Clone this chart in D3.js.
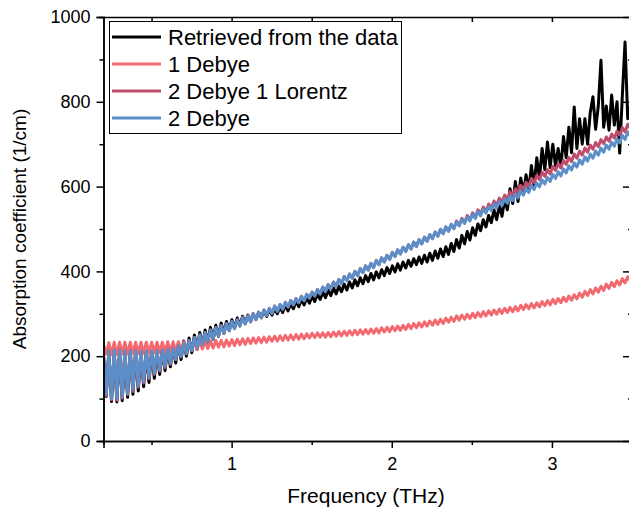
<!DOCTYPE html>
<html>
<head>
<meta charset="utf-8">
<script src="https://cdn.jsdelivr.net/npm/d3@7"></script>
<style>
  body { margin: 0; background: #fff; }
  svg { display: block; font-family: "Liberation Sans", Arial, sans-serif; }
</style>
</head>
<body>
<div id="chart"></div>
<script>
// frequency grid (THz), one point every half period of the fringes
const freq = [
  0.2, 0.2167, 0.2334, 0.2501, 0.2668, 0.2835, 0.3002, 0.3169, 0.3336, 0.3503,
  0.367, 0.3837, 0.4004, 0.4171, 0.4338, 0.4505, 0.4672, 0.4839, 0.5006, 0.5173,
  0.534, 0.5507, 0.5674, 0.5841, 0.6008, 0.6175, 0.6342, 0.6509, 0.6676, 0.6843,
  0.701, 0.7177, 0.7344, 0.7511, 0.7678, 0.7845, 0.8012, 0.8179, 0.8346, 0.8513,
  0.868, 0.8847, 0.9014, 0.9181, 0.9348, 0.9515, 0.9682, 0.9849, 1.0016, 1.0183,
  1.035, 1.0517, 1.0684, 1.0851, 1.1018, 1.1185, 1.1352, 1.1519, 1.1686, 1.1853,
  1.202, 1.2187, 1.2354, 1.2521, 1.2688, 1.2855, 1.3022, 1.3189, 1.3356, 1.3523,
  1.369, 1.3857, 1.4024, 1.4191, 1.4358, 1.4525, 1.4692, 1.4859, 1.5026, 1.5193,
  1.536, 1.5527, 1.5694, 1.5861, 1.6028, 1.6195, 1.6362, 1.6529, 1.6696, 1.6863,
  1.703, 1.7197, 1.7364, 1.7531, 1.7698, 1.7865, 1.8032, 1.8199, 1.8366, 1.8533,
  1.87, 1.8867, 1.9034, 1.9201, 1.9368, 1.9535, 1.9702, 1.9869, 2.0036, 2.0203,
  2.037, 2.0537, 2.0704, 2.0871, 2.1038, 2.1205, 2.1372, 2.1539, 2.1706, 2.1873,
  2.204, 2.2207, 2.2374, 2.2541, 2.2708, 2.2875, 2.3042, 2.3209, 2.3376, 2.3543,
  2.371, 2.3877, 2.4044, 2.4211, 2.4378, 2.4545, 2.4712, 2.4879, 2.5046, 2.5213,
  2.538, 2.5547, 2.5714, 2.5881, 2.6048, 2.6215, 2.6382, 2.6549, 2.6716, 2.6883,
  2.705, 2.7217, 2.7384, 2.7551, 2.7718, 2.7885, 2.8052, 2.8219, 2.8386, 2.8553,
  2.872, 2.8887, 2.9054, 2.9221, 2.9388, 2.9555, 2.9722, 2.9889, 3.0056, 3.0223,
  3.039, 3.0557, 3.0724, 3.0891, 3.1058, 3.1225, 3.1392, 3.1559, 3.1726, 3.1893,
  3.206, 3.2227, 3.2394, 3.2561, 3.2728, 3.2895, 3.3062, 3.3229, 3.3396, 3.3563,
  3.373, 3.3897, 3.4064, 3.4231, 3.4398, 3.4565, 3.4732, 3.4899, 3.5066
];

// absorption coefficient (1/cm)
const retrieved = [
  200,105, 210,93, 212,92, 212,95, 212,103, 211,110, 210,118, 210,128, 210,138, 211,148,
  212,157, 214,166, 217,175, 222,184, 229,192, 236,200, 243,208, 250,216, 256,224, 262,232,
  268,240, 273,247, 278,254, 282,261, 286,267, 290,273, 294,278, 297,283, 300,287, 303,291,
  306,294, 309,297, 312,300, 316,303, 320,307, 324,312, 329,317, 333,321, 338,325, 342,329,
  347,334, 351,338, 356,343, 361,347, 365,352, 370,356, 375,361, 380,366, 385,371, 390,376,
  395,380, 399,385, 404,390, 409,395, 413,399, 418,403, 422,408, 426,412, 430,416, 434,419,
  438,422, 443,426, 448,431, 453,435, 458,440, 466,447, 475,455, 485,465, 494,474, 503,485,
  512,496, 522,505, 532,515, 545,522, 556,530, 570,545, 595,560, 612,565, 620,585, 628,590,
  650,600, 668,620, 690,640, 705,645, 700,650, 690,645, 718,668, 740,680, 788,690, 760,700,
  760,700, 775,812, 735,790, 898,740, 790,733, 816,745, 800,679, 816,941, 760,790, 770
];

const debye1 = [
  228,205, 232,204, 233,204, 233,205, 233,205, 233,206, 233,206, 233,207, 233,207, 233,208,
  233,209, 233,210, 234,211, 234,212, 234,213, 234,214, 235,215, 235,216, 235,217, 236,218,
  236,219, 237,221, 237,222, 238,224, 239,225, 240,227, 241,228, 242,230, 243,231, 244,232,
  245,233, 246,235, 247,236, 248,237, 249,238, 250,239, 251,240, 252,241, 253,243, 254,244,
  255,245, 255,245, 256,246, 257,247, 258,248, 259,249, 260,250, 261,251, 262,252, 263,253,
  264,254, 265,255, 267,257, 268,258, 270,260, 271,261, 273,263, 275,265, 277,267, 279,269,
  281,271, 283,273, 285,275, 287,277, 290,280, 292,282, 295,285, 297,287, 299,289, 301,291,
  303,293, 305,295, 307,297, 309,299, 311,301, 313,303, 315,305, 317,307, 320,310, 322,312,
  324,314, 326,316, 329,319, 331,321, 334,324, 336,326, 339,329, 342,332, 345,335, 349,339,
  353,343, 357,347, 361,351, 365,355, 370,360, 374,364, 378,368, 383,373, 387,377, 392
];

const debye2lorentz1 = [
  205,107, 213,97, 214,96, 214,101, 213,109, 213,117, 212,127, 212,137, 212,147, 212,157,
  213,165, 214,173, 216,181, 219,192, 224,199, 230,206, 237,213, 244,220, 250,227, 256,234,
  262,241, 267,248, 272,254, 277,260, 282,265, 286,271, 291,276, 295,281, 300,286, 304,291,
  309,296, 313,301, 318,306, 322,311, 327,316, 331,321, 336,326, 341,331, 346,337, 351,342,
  357,347, 363,353, 369,359, 375,365, 381,371, 388,378, 394,384, 400,390, 407,397, 413,403,
  419,409, 426,416, 432,422, 438,428, 445,435, 451,441, 457,447, 463,453, 469,459, 475,465,
  481,471, 487,477, 493,483, 499,489, 505,495, 511,501, 519,509, 525,515, 532,522, 538,528,
  545,535, 552,542, 559,549, 566,556, 573,563, 580,570, 588,578, 595,585, 603,593, 610,600,
  619,609, 626,616, 634,624, 640,630, 648,638, 654,644, 662,652, 669,659, 677,667, 684,674,
  691,681, 698,688, 704,694, 711,701, 717,707, 724,714, 731,721, 739,729, 747,737, 755
];

const debye2 = [
  205,110, 213,100, 214,99, 214,104, 213,112, 213,120, 212,130, 212,140, 212,150, 212,160,
  213,168, 214,176, 216,184, 219,192, 224,199, 230,206, 237,213, 244,220, 250,227, 256,234,
  262,241, 267,248, 272,254, 277,260, 282,265, 286,271, 291,276, 295,281, 300,286, 304,291,
  309,296, 313,301, 318,306, 322,311, 327,316, 331,321, 336,326, 341,331, 346,337, 351,342,
  357,347, 363,353, 369,359, 375,365, 381,371, 388,378, 394,384, 400,390, 407,397, 413,403,
  419,409, 426,416, 432,422, 438,428, 445,435, 451,441, 457,447, 463,453, 469,459, 475,465,
  481,471, 487,477, 493,483, 499,489, 505,495, 511,501, 517,507, 523,513, 529,519, 535,525,
  541,531, 547,537, 553,543, 559,549, 565,555, 571,561, 577,567, 583,573, 590,580, 596,586,
  603,593, 609,599, 616,606, 622,612, 629,619, 635,625, 642,632, 649,639, 656,646, 663,653,
  670,660, 677,667, 684,674, 691,681, 698,688, 705,695, 713,703, 721,711, 729,719, 737
];

const seriesNames = ["Retrieved from the data", "1 Debye", "2 Debye 1 Lorentz", "2 Debye"];
const seriesColors = ["#000000", "#f26a6f", "#c04c6c", "#5b8fca"];
const seriesValues = [retrieved, debye1, debye2lorentz1, debye2];

const yTicks = [0, 200, 400, 600, 800, 1000];
const yMinor = [100, 300, 500, 700, 900];
const xTicks = [1, 2, 3];
const xMinor = [0.5, 1.5, 2.5, 3.5];
const topTicks = [0.5, 1, 1.5, 2, 2.5, 3, 3.5];

(function chart() {
  const width = 629, height = 510;
  const pl = 103.5, pr = 632, pt = 17, pb = 441;

  const svg = d3.select("#chart")
    .append("svg")
    .attr("width", width)
    .attr("height", height);

  const x = d3.scaleLinear().domain([0.2, 3.5]).range([pl, pr]);
  const y = d3.scaleLinear().domain([0, 1000]).range([pb, pt]);

  svg.append("clipPath").attr("id", "plot")
    .append("rect")
    .attr("x", pl).attr("y", pt)
    .attr("width", pr - pl).attr("height", pb - pt);

  const line = d3.line()
    .x((d, i) => x(freq[i]))
    .y(d => y(d));

  svg.append("g")
    .attr("clip-path", "url(#plot)")
    .selectAll("path")
    .data(seriesValues)
    .join("path")
    .attr("d", d => line(d))
    .attr("fill", "none")
    .attr("stroke", (d, i) => seriesColors[i])
    .attr("stroke-width", 3)
    .attr("stroke-linejoin", "round");

  // axes
  const axisStyle = g => {
    g.selectAll(".domain").attr("stroke", "#000").attr("stroke-width", 1.5);
    g.selectAll(".tick line").attr("stroke", "#000").attr("stroke-width", 1.5);
    g.selectAll("text").attr("font-size", 18).attr("fill", "#000")
      .attr("font-family", "'Liberation Sans', Arial, sans-serif");
  };

  svg.append("g")
    .attr("transform", `translate(0,${pb})`)
    .call(d3.axisBottom(x).tickValues(xMinor).tickSize(4).tickFormat(""))
    .call(axisStyle);
  svg.append("g")
    .attr("transform", `translate(0,${pb})`)
    .call(d3.axisBottom(x).tickValues(xTicks).tickSize(7).tickPadding(9).tickFormat(d3.format("d")))
    .call(axisStyle);

  svg.append("g")
    .attr("transform", `translate(${pl},0)`)
    .call(d3.axisLeft(y).tickValues(yMinor).tickSize(4).tickFormat(""))
    .call(axisStyle);
  svg.append("g")
    .attr("transform", `translate(${pl},0)`)
    .call(d3.axisLeft(y).tickValues(yTicks).tickSize(7).tickPadding(6).tickFormat(d3.format("d")))
    .call(axisStyle);

  // top: mirror of the bottom axis, ticks pointing down into the plot
  svg.append("g")
    .attr("transform", `translate(0,${pt})`)
    .call(d3.axisBottom(x).tickValues(topTicks).tickSize(5).tickSizeOuter(0).tickFormat(""))
    .call(axisStyle);

  // right: ticks pointing left into the plot
  svg.append("g")
    .attr("transform", `translate(${pr},0)`)
    .call(d3.axisLeft(y).tickValues(yMinor).tickSize(4).tickSizeOuter(0).tickFormat(""))
    .call(axisStyle);
  svg.append("g")
    .attr("transform", `translate(${pr},0)`)
    .call(d3.axisLeft(y).tickValues(yTicks).tickSize(9).tickSizeOuter(0).tickFormat(""))
    .call(axisStyle);

  // axis titles
  svg.append("text")
    .attr("x", 366).attr("y", 503)
    .attr("text-anchor", "middle")
    .attr("font-size", 21)
    .text("Frequency (THz)");

  svg.append("text")
    .attr("transform", `translate(26,${(pt + pb) / 2}) rotate(-90)`)
    .attr("text-anchor", "middle")
    .attr("font-size", 19)
    .text("Absorption coefficient (1/cm)");

  // legend
  const legend = svg.append("g");
  legend.append("rect")
    .attr("x", 109.5).attr("y", 21.5)
    .attr("width", 292).attr("height", 112)
    .attr("fill", "#fff")
    .attr("stroke", "#000")
    .attr("stroke-width", 1);

  const rows = legend.selectAll("g.row")
    .data(seriesNames)
    .join("g")
    .attr("class", "row")
    .attr("transform", (d, i) => `translate(0,${37 + i * 27})`);
  rows.append("line")
    .attr("x1", 112).attr("x2", 161)
    .attr("stroke", (d, i) => seriesColors[i])
    .attr("stroke-width", 3);
  rows.append("text")
    .attr("x", 168).attr("dy", "0.35em")
    .attr("font-size", 22)
    .text(d => d);
})();
</script>
</body>
</html>
